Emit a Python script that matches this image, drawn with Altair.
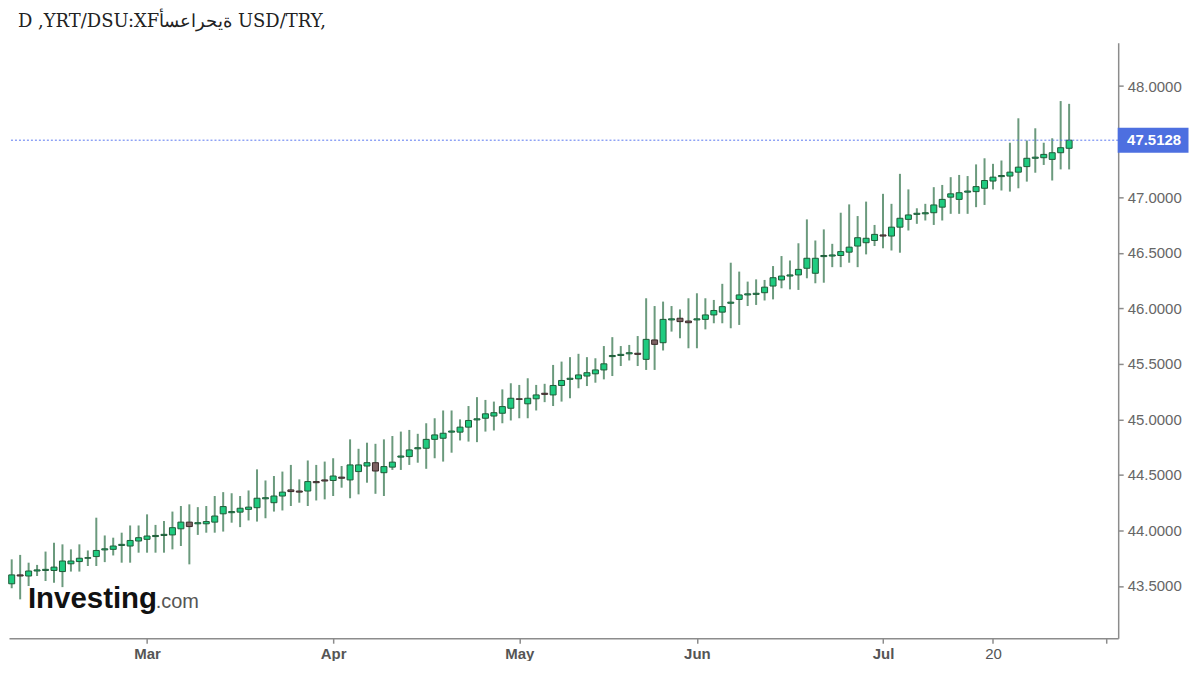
import altair as alt
import pandas as pd
import numpy as np

# ---------------- data ----------------
DATES = pd.bdate_range("2026-02-06", "2026-07-31")

OPEN = [43.52, 43.60, 43.59, 43.635, 43.64, 43.64, 43.63, 43.70, 43.72, 43.75,
        43.765, 43.825, 43.83, 43.865, 43.86, 43.905, 43.92, 43.945, 43.955, 43.96,
        44.015, 44.075, 44.06, 44.06, 44.075, 44.15, 44.16, 44.165, 44.19, 44.205,
        44.285, 44.25, 44.31, 44.365, 44.355, 44.355, 44.44, 44.455, 44.45, 44.48,
        44.455, 44.53, 44.58, 44.61, 44.52, 44.57, 44.66, 44.665, 44.735, 44.74,
        44.82, 44.83, 44.885, 44.885, 44.93, 44.995, 45.01, 45.03, 45.055, 45.10,
        45.185, 45.14, 45.185, 45.235, 45.22, 45.305, 45.36, 45.365, 45.39, 45.41,
        45.445, 45.565, 45.575, 45.59, 45.595, 45.54, 45.715, 45.69, 45.895, 45.91,
        45.885, 45.895, 45.90, 45.94, 45.965, 46.045, 46.08, 46.12, 46.125, 46.14,
        46.20, 46.255, 46.29, 46.30, 46.36, 46.315, 46.465, 46.47, 46.475, 46.505,
        46.56, 46.59, 46.61, 46.66, 46.65, 46.73, 46.80, 46.845, 46.85, 46.86,
        46.91, 47.00, 46.98, 47.045, 47.05, 47.08, 47.145, 47.185, 47.19, 47.225,
        47.275, 47.35, 47.355, 47.34, 47.40, 47.44]
HIGH = [43.74, 43.78, 43.71, 43.69, 43.81, 43.89, 43.875, 43.83, 43.875, 43.82,
        44.115, 43.955, 43.935, 43.98, 44.045, 44.045, 44.145, 44.05, 44.085, 44.17,
        44.22, 44.235, 44.21, 44.22, 44.31, 44.345, 44.335, 44.31, 44.36, 44.55,
        44.45, 44.49, 44.53, 44.59, 44.46, 44.63, 44.59, 44.62, 44.65, 44.58,
        44.82, 44.735, 44.79, 44.78, 44.82, 44.85, 44.89, 44.905, 44.87, 44.965,
        45.01, 45.08, 45.08, 45.00, 45.12, 45.20, 45.175, 45.16, 45.27, 45.325,
        45.31, 45.37, 45.31, 45.32, 45.49, 45.52, 45.56, 45.59, 45.56, 45.55,
        45.66, 45.74, 45.66, 45.67, 45.75, 46.09, 46.02, 46.06, 46.02, 45.99,
        46.09, 46.135, 46.09, 46.075, 46.22, 46.41, 46.33, 46.24, 46.26, 46.255,
        46.38, 46.47, 46.43, 46.585, 46.80, 46.61, 46.71, 46.58, 46.86, 46.935,
        46.83, 46.96, 46.75, 47.03, 46.94, 47.21, 47.07, 46.90, 46.94, 47.09,
        47.11, 47.18, 47.20, 47.19, 47.295, 47.35, 47.30, 47.33, 47.49, 47.71,
        47.51, 47.62, 47.49, 47.53, 47.865, 47.84]
LOW = [43.48, 43.38, 43.50, 43.59, 43.545, 43.53, 43.49, 43.63, 43.63, 43.68,
       43.68, 43.715, 43.775, 43.71, 43.71, 43.80, 43.80, 43.80, 43.80, 43.83,
       43.86, 43.695, 43.96, 43.98, 43.98, 43.99, 44.07, 44.03, 44.09, 44.08,
       44.11, 44.17, 44.18, 44.22, 44.25, 44.22, 44.27, 44.28, 44.31, 44.385,
       44.29, 44.325, 44.43, 44.33, 44.31, 44.545, 44.545, 44.59, 44.61, 44.555,
       44.65, 44.62, 44.70, 44.81, 44.80, 44.795, 44.89, 44.90, 44.965, 44.99,
       45.01, 45.01, 45.08, 45.155, 45.12, 45.16, 45.19, 45.28, 45.30, 45.33,
       45.36, 45.39, 45.48, 45.53, 45.48, 45.445, 45.445, 45.62, 45.79, 45.73,
       45.64, 45.64, 45.81, 45.865, 45.865, 45.82, 45.85, 46.02, 46.03, 46.07,
       46.08, 46.18, 46.17, 46.165, 46.27, 46.225, 46.23, 46.37, 46.37, 46.41,
       46.37, 46.485, 46.56, 46.54, 46.52, 46.50, 46.70, 46.76, 46.79, 46.75,
       46.79, 46.85, 46.85, 46.85, 46.91, 46.93, 47.07, 47.06, 47.05, 47.08,
       47.14, 47.22, 47.29, 47.15, 47.25, 47.25]
CLOSE = [43.60, 43.59, 43.635, 43.645, 43.65, 43.67, 43.725, 43.725, 43.75, 43.755,
         43.82, 43.835, 43.86, 43.875, 43.91, 43.935, 43.95, 43.955, 43.965, 44.025,
         44.075, 44.035, 44.07, 44.08, 44.13, 44.215, 44.17, 44.20, 44.21, 44.29,
         44.295, 44.31, 44.345, 44.35, 44.345, 44.44, 44.43, 44.445, 44.49, 44.47,
         44.59, 44.59, 44.61, 44.535, 44.575, 44.615, 44.67, 44.725, 44.745, 44.82,
         44.86, 44.875, 44.895, 44.93, 44.99, 45.005, 45.05, 45.06, 45.115, 45.19,
         45.18, 45.19, 45.22, 45.225, 45.305, 45.35, 45.37, 45.40, 45.42, 45.445,
         45.50, 45.575, 45.585, 45.60, 45.585, 45.72, 45.675, 45.90, 45.905, 45.88,
         45.87, 45.905, 45.94, 45.98, 46.015, 46.055, 46.12, 46.13, 46.135, 46.19,
         46.275, 46.29, 46.30, 46.35, 46.45, 46.45, 46.475, 46.48, 46.51, 46.55,
         46.635, 46.63, 46.665, 46.65, 46.73, 46.81, 46.84, 46.855, 46.86, 46.93,
         46.98, 47.03, 47.04, 47.055, 47.095, 47.15, 47.18, 47.195, 47.225, 47.27,
         47.35, 47.36, 47.385, 47.40, 47.445, 47.5128]

TICK_DATES = ["2026-03-02", "2026-04-01", "2026-05-01", "2026-06-01", "2026-07-01", "2026-07-20"]
TICK_LABELS = ["Mar", "Apr", "May", "Jun", "Jul", "20"]
EXTRA_TICK = 129.4          # unlabeled tick at the right end of the time axis
Y_TICKS = [43.5, 44.0, 44.5, 45.0, 45.5, 46.0, 46.5, 47.0, 47.5, 48.0]
LAST_PRICE = CLOSE[-1]

TITLE_TEXT = "D ,YRT/DSU:XF" + "ةيحراعسأ" + " USD/TRY,"

# ---------------- build ----------------
W, H = 1112, 597
df = pd.DataFrame({
    "i": np.arange(len(DATES)),
    "date": DATES.strftime("%Y-%m-%d"),
    "open": OPEN, "high": HIGH, "low": LOW, "close": CLOSE,
})
df["dir"] = np.where(df["close"] >= df["open"], "up", "down")

tick_idx = [int(DATES.get_loc(pd.Timestamp(d))) for d in TICK_DATES]
x_values = tick_idx + [EXTRA_TICK]
label_expr = " : ".join(f"datum.value == {v} ? '{l}'" for v, l in zip(tick_idx, TICK_LABELS)) + " : ''"

AXIS_COLOR = "#8c8c8c"
x_scale = alt.Scale(domain=[-0.32, 130.8], nice=False, zero=False, padding=0)
y_scale = alt.Scale(domain=[43.03, 48.39], nice=False, zero=False)

x_axis = alt.Axis(
    values=x_values, labelExpr=label_expr, title=None, grid=False,
    labelFont="Liberation Sans", labelFontSize=15, labelColor="#555555",
    labelFontWeight={"condition": {"test": f"datum.value == {tick_idx[-1]}", "value": "normal"}, "value": "bold"},
    domainColor=AXIS_COLOR, domainWidth=1.5, tickColor=AXIS_COLOR, tickWidth=1.5, tickSize=5,
    labelPadding=3, labelOverlap=False, labelFlush=False,
)
y_axis = alt.Axis(
    orient="right", values=Y_TICKS, format=".4f", title=None, grid=False,
    labelFont="Liberation Sans", labelFontSize=15, labelColor="#666666",
    domainColor=AXIS_COLOR, domainWidth=1.5, tickColor=AXIS_COLOR, tickWidth=1.5, tickSize=5,
    labelPadding=4, labelOverlap=False, labelFlush=False,
)

base = alt.Chart(df)

wicks = base.mark_rule(color="#6b9a7d", strokeWidth=2).encode(
    x=alt.X("i:Q", scale=x_scale, axis=x_axis),
    y=alt.Y("low:Q", scale=y_scale, axis=y_axis),
    y2="high:Q",
)

bodies = base.mark_bar(width=6, strokeWidth=1).encode(
    x=alt.X("i:Q", scale=x_scale),
    y=alt.Y("open:Q", scale=y_scale),
    y2="close:Q",
    fill=alt.Fill("dir:N", scale=alt.Scale(domain=["up", "down"], range=["#1fcb80", "#7c6262"]), legend=None),
    stroke=alt.Stroke("dir:N", scale=alt.Scale(domain=["up", "down"], range=["#1f5a37", "#3c2a2a"]), legend=None),
)

one = pd.DataFrame({"v": [LAST_PRICE]})
price_line = alt.Chart(one).mark_rule(color="#5a78f0", strokeWidth=1, strokeDash=[2, 2]).encode(
    y=alt.Y("v:Q", scale=y_scale),
)
price_box = alt.Chart(one).mark_point(
    shape="M-1,-0.352L1,-0.352L1,0.352L-1,0.352Z", size=71 * 71, filled=True,
    fill="#4d6fe0", strokeWidth=0, opacity=1,
).encode(x=alt.value(1147), y=alt.Y("v:Q", scale=y_scale))
price_text = alt.Chart(one).mark_text(
    color="white", font="Liberation Sans", fontSize=15, fontWeight="bold", align="center", baseline="middle",
).encode(x=alt.value(1148), y=alt.Y("v:Q", scale=y_scale), text=alt.Text("v:Q", format=".4f"))

logo_main = alt.Chart(pd.DataFrame({"t": ["Investing"]})).mark_text(
    font="Liberation Sans", fontSize=29.5, fontWeight="bold", color="#111111", align="left", baseline="alphabetic",
).encode(x=alt.value(19), y=alt.value(567), text="t:N")
logo_com = alt.Chart(pd.DataFrame({"t": [".com"]})).mark_text(
    font="Liberation Sans", fontSize=20, color="#555555", align="left", baseline="alphabetic",
).encode(x=alt.value(147), y=alt.value(567), text="t:N")

title = alt.Chart(pd.DataFrame({"t": [TITLE_TEXT]})).mark_text(
    font="DejaVu Serif", fontSize=18, color="#222222", align="left", baseline="alphabetic",
).encode(x=alt.value(9), y=alt.value(-16), text="t:N")

chart = alt.layer(wicks, bodies, price_line, price_box, price_text, logo_main, logo_com, title).properties(
    width=W, height=H,
    autosize=alt.AutoSizeParams(type="none"),
    padding={"left": 1, "top": 34, "right": 74, "bottom": 22},
    background="white",
).configure_view(stroke=None)

chart.save("out.html", embed_options={"renderer": "svg", "actions": False})
